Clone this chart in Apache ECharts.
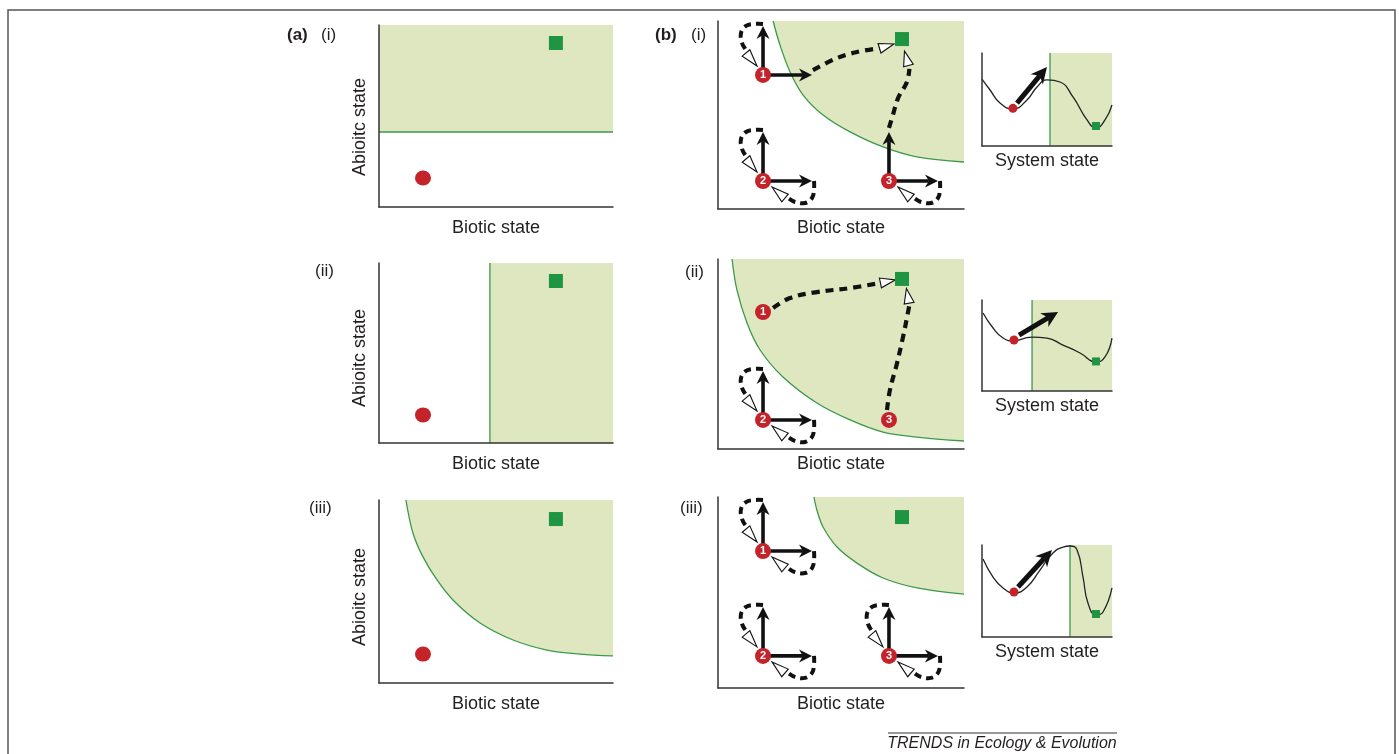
<!DOCTYPE html>
<html><head><meta charset="utf-8">
<script src="https://cdn.jsdelivr.net/npm/echarts@6/dist/echarts.min.js"></script>
<style>html,body{margin:0;padding:0;background:#fff}#chart{width:1399px;height:754px}</style>
</head><body><div id="chart"></div>
<script>
// ================= DATA =================
const xTitle = 'Biotic state';
const yTitle = 'Abioitc state';
const sTitle = 'System state';
const partLabels = ['(a)', '(b)'];
const panelLabels = ['(i)', '(ii)', '(iii)'];
const footerText = 'TRENDS in Ecology & Evolution';
const nodeNames = ['1', '2', '3'];

// (a) state-space panels (x: biotic 0-100, y: abiotic 0-100)
const aStart = [[18.8, 15.9], [18.8, 15.6], [18.8, 15.8]];
const aTarget = [[75.6, 90.1], [75.6, 90.0], [75.6, 89.6]];
const aBoundI = [[0, 41.2], [100, 41.2]];
const aBoundII = [[47.4, 0], [47.4, 100]];
const aBoundIII = [[11.5, 100], [14.5, 82.0], [18.8, 68.9], [24.8, 56.3], [31.6, 45.4], [43.2, 32.8], [57.3, 23.5], [71.8, 18.0], [85.9, 15.8], [100, 14.8]];

// (b) state-space panels
const bNodesI = [[18.3, 71.3], [18.3, 14.9], [69.5, 14.9]];
const bNodesII = [[18.3, 72.1], [18.3, 15.3], [69.5, 15.3]];
const bNodesIII = [[18.3, 71.7], [18.3, 16.8], [69.5, 16.8]];
// U: up arrow, R: right arrow, T: upper-left return loop, B: lower-right return loop
const bMovesI = ['URT', 'URTB', 'URB'];
const bMovesII = ['', 'URTB', ''];
const bMovesIII = ['URTB', 'URTB', 'URTB'];
const bTarget = [[74.8, 90.4], [74.8, 89.5], [74.8, 89.5]];
const bBoundI = [[22.4, 100], [25.2, 87.2], [29.3, 72.9], [34.6, 60.6], [42.7, 50.0], [53.7, 41.0], [67.1, 33.0], [80.9, 27.7], [100, 25.0]];
const bBoundII = [[5.7, 100], [7.7, 83.7], [11.8, 66.3], [17.1, 52.1], [26.4, 37.9], [40.2, 24.2], [53.7, 15.3], [67.1, 8.9], [80.9, 6.3], [100, 4.2]];
const bBoundIII = [[39.0, 100], [40.2, 93.2], [42.7, 84.3], [48.4, 73.8], [56.5, 65.4], [67.1, 57.6], [80.9, 52.4], [100, 49.2]];
// trajectories (last point = arrow tip)
const bPathsI = [
  [[38.6, 73.9], [48.4, 80.3], [56.5, 83.5], [65.9, 85.6], [71.5, 87.8]],
  [[69.5, 43.1], [71.1, 50.0], [73.2, 59.0], [76.8, 67.6], [77.8, 74.5], [75.8, 84.0]]
];
const bPathsII = [
  [[22.4, 74.2], [29.3, 79.5], [40.2, 82.6], [53.7, 84.7], [66.0, 87.4], [72.0, 89.0]],
  [[68.7, 20.5], [69.9, 31.1], [72.8, 45.3], [75.2, 58.9], [77.2, 71.6], [77.8, 76.0], [76.6, 84.5]]
];
const bPathsIII = [];

// landscape panels (x: system state, y: potential)
const landI = [[0, 72.0], [6.2, 60.2], [13.8, 46.2], [23.8, 39.8], [34.6, 49.5], [42.3, 63.4], [50, 71.0], [60, 68.8], [70, 52.7], [80.8, 28.0], [87.7, 19.4], [94.6, 28.0], [100, 44.1]];
const landII = [[0.8, 85.7], [8.5, 69.2], [16.2, 58.2], [24.6, 54.9], [33.1, 58.2], [38.5, 59.3], [50, 58.2], [62.3, 50.5], [75.4, 41.8], [87.7, 31.9], [94.6, 37.4], [100, 58.2]];
const landIII = [[0.8, 84.8], [8.5, 65.2], [16.2, 53.3], [24.6, 47.8], [34.6, 54.3], [44.6, 72.8], [54.6, 91.3], [62.3, 97.8], [67.7, 98.9], [73.1, 94.6], [77.7, 65.2], [81.5, 37.0], [87.7, 23.9], [93.1, 27.2], [100, 53.3]];
const landBoundI = [[52.3, 0], [52.3, 100]];
const landBoundII = [[38.5, 0], [38.5, 100]];
const landBoundIII = [[67.7, 0], [67.7, 100]];
const landStart = [[23.8, 40.5], [24.6, 56.0], [24.6, 48.9]];
const landTarget = [[87.7, 21.5], [87.7, 32.5], [87.7, 25.0]];
const landArrows = [[26.9, 46.2, 50, 84.9], [28.5, 61.5, 58.5, 86.8], [27.7, 54.3, 53.8, 94.6]];

// ================= STYLE / LAYOUT =================
const FONT = "'Liberation Sans', Arial, Helvetica, sans-serif";
const TXT = '#231f20';
const FILL = '#dfe7c1';
const GLINE = '#3a9a48';
const RED = '#c4232a';
const GSQ = '#1f9443';
const AXC = '#333333';

const gridsA = [
  {left: 379, top: 25, width: 234, height: 182},
  {left: 379, top: 263, width: 234, height: 180},
  {left: 379, top: 500, width: 234, height: 183}
];
const gridsB = [
  {left: 718, top: 21, width: 246, height: 188},
  {left: 718, top: 259, width: 246, height: 190},
  {left: 718, top: 497, width: 246, height: 191}
];
const gridsS = [
  {left: 982, top: 53, width: 130, height: 93},
  {left: 982, top: 300, width: 130, height: 91},
  {left: 982, top: 545, width: 130, height: 92}
];
const nameGaps = [12, 12, 12, 10, 6, 7, 6, 6, 6];
const grids = [...gridsA, ...gridsB, ...gridsS].map(g => Object.assign({containLabel: false, outerBoundsMode: 'none'}, g));

const xAxes = [], yAxes = [];
grids.forEach((g, i) => {
  const isS = i >= 6;
  xAxes.push({
    gridIndex: i, type: 'value', min: 0, max: 100, z: 10,
    axisLine: {show: true, onZero: false, lineStyle: {color: AXC, width: 1.5}},
    axisTick: {show: false}, axisLabel: {show: false}, splitLine: {show: false},
    name: isS ? sTitle : xTitle, nameLocation: 'middle', nameGap: nameGaps[i],
    nameTextStyle: {fontSize: 18, color: TXT, fontFamily: FONT}
  });
  yAxes.push({
    gridIndex: i, type: 'value', min: 0, max: 100, z: 10,
    axisLine: {show: true, onZero: false, lineStyle: {color: AXC, width: 1.5}},
    axisTick: {show: false}, axisLabel: {show: false}, splitLine: {show: false}
  });
});

// ---------- geometry helpers ----------
function unit(a, b) { const dx = b[0] - a[0], dy = b[1] - a[1]; const l = Math.hypot(dx, dy) || 1; return [dx / l, dy / l]; }
function blackArrow(from, tip, w, L, W) {
  const d = unit(from, tip), n = [-d[1], d[0]];
  const bx = tip[0] - d[0] * L, by = tip[1] - d[1] * L;
  const nx = tip[0] - d[0] * L * 0.7, ny = tip[1] - d[1] * L * 0.7;
  return [
    {type: 'line', shape: {x1: from[0], y1: from[1], x2: nx, y2: ny}, style: {stroke: '#111', lineWidth: w}},
    {type: 'polygon', shape: {points: [tip, [bx + n[0] * W, by + n[1] * W], [nx, ny], [bx - n[0] * W, by - n[1] * W]]}, style: {fill: '#111'}}
  ];
}
function whiteHead(base, tip, hw) {
  const d = unit(base, tip), n = [-d[1], d[0]];
  return {type: 'polygon', shape: {points: [tip, [base[0] + n[0] * hw, base[1] + n[1] * hw], [base[0] - n[0] * hw, base[1] - n[1] * hw]]},
    style: {fill: '#fff', stroke: '#111', lineWidth: 1.1}};
}
const ARM = 49;
const LOOP_TL = [[0, -51], [-9, -51], [-17, -49], [-22, -42], [-21, -32], [-17, -25]];
const HEAD_TL = [[-17, -22], [-6, -9]];
const mirror = p => [-p[1], -p[0]];
const DASH = {stroke: '#111', lineWidth: 4, lineDash: [7, 5], fill: 'none', lineCap: 'butt'};

function glyphRender(moves) {
  return function (params, api) {
    const c = api.coord([api.value(0), api.value(1)]);
    const m = moves[params.dataIndex];
    const P = p => [c[0] + p[0], c[1] + p[1]];
    const ch = [];
    if (m.includes('T')) {
      ch.push({type: 'polyline', shape: {points: LOOP_TL.map(P), smooth: 0.4}, style: DASH});
      ch.push(whiteHead(P(HEAD_TL[0]), P(HEAD_TL[1]), 5));
    }
    if (m.includes('B')) {
      ch.push({type: 'polyline', shape: {points: LOOP_TL.map(mirror).map(P), smooth: 0.4}, style: DASH});
      ch.push(whiteHead(P(mirror(HEAD_TL[0])), P(mirror(HEAD_TL[1])), 5));
    }
    if (m.includes('U')) ch.push(...blackArrow(c, P([0, -ARM]), 3.6, 13, 6.5));
    if (m.includes('R')) ch.push(...blackArrow(c, P([ARM, 0]), 3.6, 13, 6.5));
    return {type: 'group', children: ch};
  };
}
function headRender(params, api) {
  const a = api.coord([api.value(0), api.value(1)]);
  const b = api.coord([api.value(2), api.value(3)]);
  const d = unit(a, b);
  return whiteHead([b[0] - d[0] * 15, b[1] - d[1] * 15], b, 5);
}
function bigArrowRender(params, api) {
  const a = api.coord([api.value(0), api.value(1)]);
  const b = api.coord([api.value(2), api.value(3)]);
  return {type: 'group', children: blackArrow(a, b, 5, 16, 8)};
}

// ---------- series ----------
const series = [];
function region(gi, boundary, smooth) {
  const vertical = boundary[0][0] === boundary[boundary.length - 1][0];
  series.push({
    type: 'line', xAxisIndex: gi, yAxisIndex: gi, silent: true, z: 1, symbol: 'none',
    data: vertical ? [[boundary[0][0], 0], [100, 0]] : boundary,
    smooth: vertical ? false : smooth,
    lineStyle: vertical ? {opacity: 0, width: 0} : {color: GLINE, width: 1.3},
    areaStyle: {color: FILL, opacity: 1, origin: 'end'}
  });
  if (vertical) series.push({type: 'line', xAxisIndex: gi, yAxisIndex: gi, silent: true, z: 2, symbol: 'none',
    data: boundary, lineStyle: {color: GLINE, width: 1.3}});
}
function markers(gi, start, target, rSize, sSize) {
  series.push({type: 'scatter', xAxisIndex: gi, yAxisIndex: gi, z: 6, silent: true, symbol: 'circle', symbolSize: rSize,
    itemStyle: {color: RED, opacity: 1}, data: [start]});
  series.push({type: 'scatter', xAxisIndex: gi, yAxisIndex: gi, z: 6, silent: true, symbol: 'rect', symbolSize: sSize,
    itemStyle: {color: GSQ, opacity: 1}, data: [target]});
}

// (a)
[aBoundI, aBoundII, aBoundIII].forEach((b, i) => {
  region(i, b, 0.35);
  markers(i, aStart[i], aTarget[i], [16, 15], 14);
});
// (b)
const bB = [bBoundI, bBoundII, bBoundIII];
const bN = [bNodesI, bNodesII, bNodesIII];
const bM = [bMovesI, bMovesII, bMovesIII];
const bP = [bPathsI, bPathsII, bPathsIII];
for (let k = 0; k < 3; k++) {
  const gi = 3 + k;
  region(gi, bB[k], 0.35);
  series.push({type: 'scatter', xAxisIndex: gi, yAxisIndex: gi, z: 6, silent: true, symbol: 'rect', symbolSize: 14,
    itemStyle: {color: GSQ, opacity: 1}, data: [bTarget[k]]});
  bP[k].forEach(path => {
    series.push({type: 'line', xAxisIndex: gi, yAxisIndex: gi, z: 4, silent: true, symbol: 'none', smooth: 0.4,
      data: path.slice(0, -1), lineStyle: {color: '#111', width: 4.2, type: [8, 6], cap: 'butt'}});
    const n = path.length;
    series.push({type: 'custom', xAxisIndex: gi, yAxisIndex: gi, z: 5, silent: true, renderItem: headRender,
      data: [[path[n - 2][0], path[n - 2][1], path[n - 1][0], path[n - 1][1]]]});
  });
  series.push({type: 'custom', xAxisIndex: gi, yAxisIndex: gi, z: 5, silent: true, renderItem: glyphRender(bM[k]),
    data: bN[k]});
  series.push({type: 'scatter', xAxisIndex: gi, yAxisIndex: gi, z: 7, silent: true, symbol: 'circle', symbolSize: 16,
    itemStyle: {color: RED, opacity: 1},
    label: {show: true, position: 'inside', formatter: '{b}', color: '#fff', fontSize: 11, fontWeight: 'bold', fontFamily: FONT},
    data: bN[k].map((p, i) => ({name: nodeNames[i], value: p}))});
}
// landscapes
const lC = [landI, landII, landIII];
const lB = [landBoundI, landBoundII, landBoundIII];
for (let k = 0; k < 3; k++) {
  const gi = 6 + k;
  region(gi, lB[k], 0);
  series.push({type: 'line', xAxisIndex: gi, yAxisIndex: gi, z: 3, silent: true, symbol: 'none', smooth: 0.5,
    data: lC[k], lineStyle: {color: '#222', width: 1.3}});
  markers(gi, landStart[k], landTarget[k], 9, 8);
  series.push({type: 'custom', xAxisIndex: gi, yAxisIndex: gi, z: 8, silent: true, renderItem: bigArrowRender,
    data: [landArrows[k]]});
}

// ---------- text graphics ----------
const lab = (x, y, text, bold) => ({type: 'text', x, y, style: {text, font: (bold ? 'bold ' : '') + '17px ' + FONT, fill: TXT, verticalAlign: 'middle'}});
const graphic = [
  {type: 'rect', shape: {x: 8, y: 10, width: 1387, height: 760}, style: {fill: 'none', stroke: '#555', lineWidth: 1.5}, z: -1},
  lab(287, 35, partLabels[0], true), lab(321, 35, panelLabels[0]),
  lab(655, 35, partLabels[1], true), lab(691, 35, panelLabels[0]),
  lab(315, 271, panelLabels[1]), lab(685, 272, panelLabels[1]),
  lab(309, 508, panelLabels[2]), lab(680, 508, panelLabels[2]),
  ...[127, 358, 597].map(y => ({type: 'text', x: 360, y, rotation: Math.PI / 2,
    style: {text: yTitle, font: '18px ' + FONT, fill: TXT, align: 'center', verticalAlign: 'middle'}})),
  {type: 'line', shape: {x1: 888, y1: 733, x2: 1117, y2: 733}, style: {stroke: '#333', lineWidth: 1}},
  {type: 'text', x: 1002, y: 744, style: {text: footerText, font: 'italic 16px ' + FONT, fill: TXT, align: 'center', verticalAlign: 'middle'}}
];

const chart = echarts.init(document.getElementById('chart'), null, {renderer: 'canvas'});
chart.setOption({
  animation: false,
  backgroundColor: '#fff',
  grid: grids, xAxis: xAxes, yAxis: yAxes,
  series, graphic
});
</script></body></html>
